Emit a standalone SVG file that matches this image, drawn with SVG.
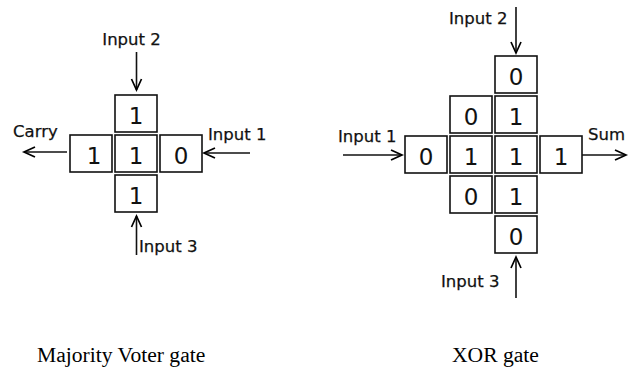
<svg xmlns="http://www.w3.org/2000/svg" width="635" height="370" viewBox="0 0 635 370">
<defs>
<marker id="ah" markerUnits="userSpaceOnUse" markerWidth="16" markerHeight="16" viewBox="-12 -8 16 16" refX="0" refY="0" orient="auto">
<path d="M-11,-5 L0,0 L-11,5" fill="none" stroke="#000" stroke-width="1.7"/>
</marker>
</defs>
<style>
.box{fill:#fff;stroke:#111;stroke-width:1.6}
.dig{font-family:"DejaVu Sans",Verdana,sans-serif;font-size:23px;fill:#111;text-anchor:middle}
.lbl{font-family:"DejaVu Sans",Verdana,sans-serif;font-size:16.5px;fill:#111;stroke:#111;stroke-width:0.25}
.cap{font-family:"Liberation Serif","Times New Roman",serif;font-size:21.6px;fill:#000}
.arr{stroke:#111;stroke-width:1.6;fill:none;marker-end:url(#ah)}
</style>
<rect width="635" height="370" fill="#fff"/>

<!-- Majority voter gate -->
<g id="mv-top"><rect class="box" x="115" y="95" width="42" height="37"/><text class="dig" x="136" y="124">1</text></g>
<g id="mv-left"><rect class="box" x="70" y="135" width="42" height="37"/><text class="dig" x="94" y="164">1</text></g>
<g id="mv-center"><rect class="box" x="115" y="135" width="42" height="37"/><text class="dig" x="136" y="164">1</text></g>
<g id="mv-right"><rect class="box" x="160" y="135" width="42" height="37"/><text class="dig" x="181" y="164">0</text></g>
<g id="mv-bottom"><rect class="box" x="115" y="175" width="42" height="37"/><text class="dig" x="136" y="204">1</text></g>

<!-- XOR gate -->
<g id="x-c0"><rect class="box" x="495" y="56" width="42" height="37"/><text class="dig" x="516" y="85">0</text></g>
<g id="x-b1"><rect class="box" x="450" y="96" width="42" height="37"/><text class="dig" x="471" y="125">0</text></g>
<g id="x-c1"><rect class="box" x="495" y="96" width="42" height="37"/><text class="dig" x="516" y="125">1</text></g>
<g id="x-a2"><rect class="box" x="405" y="136" width="42" height="37"/><text class="dig" x="426" y="165">0</text></g>
<g id="x-b2"><rect class="box" x="450" y="136" width="42" height="37"/><text class="dig" x="471" y="165">1</text></g>
<g id="x-c2"><rect class="box" x="495" y="136" width="42" height="37"/><text class="dig" x="516" y="165">1</text></g>
<g id="x-d2"><rect class="box" x="540" y="136" width="42" height="37"/><text class="dig" x="561" y="165">1</text></g>
<g id="x-b3"><rect class="box" x="450" y="176" width="42" height="37"/><text class="dig" x="471" y="205">0</text></g>
<g id="x-c3"><rect class="box" x="495" y="176" width="42" height="37"/><text class="dig" x="516" y="205">1</text></g>
<g id="x-c4"><rect class="box" x="495" y="216" width="42" height="37"/><text class="dig" x="516" y="245">0</text></g>

<g id="connectors">
<line class="arr" x1="136.5" y1="52" x2="136.5" y2="90"/>
<line class="arr" x1="67" y1="152" x2="24" y2="152"/>
<line class="arr" x1="250" y1="153" x2="204" y2="153"/>
<line class="arr" x1="136.5" y1="255" x2="136.5" y2="216"/>
<line class="arr" x1="516" y1="7" x2="516" y2="53"/>
<line class="arr" x1="343" y1="155" x2="402" y2="155"/>
<line class="arr" x1="582" y1="155" x2="626" y2="155"/>
<line class="arr" x1="516" y1="298" x2="516" y2="257"/>
</g>

<g id="labels">
<text class="lbl" x="131.5" y="45" text-anchor="middle">Input 2</text>
<text class="lbl" x="13" y="137">Carry</text>
<text class="lbl" x="208" y="140">Input 1</text>
<text class="lbl" x="139" y="251.5">Input 3</text>
<text class="lbl" x="449" y="24">Input 2</text>
<text class="lbl" x="338" y="141.5">Input 1</text>
<text class="lbl" x="588" y="140">Sum</text>
<text class="lbl" x="441" y="287">Input 3</text>
<text class="cap" x="37" y="362">Majority Voter gate</text>
<text class="cap" x="452" y="362">XOR gate</text>
</g>
</svg>
